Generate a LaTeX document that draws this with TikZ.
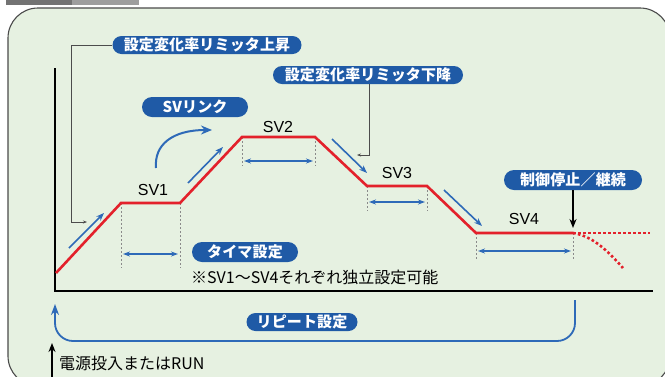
\documentclass[tikz,border=0pt]{standalone}
\usepackage{fontspec}
\setmainfont{Liberation Sans}
\newfontfamily\jp{Noto Sans CJK JP}
\newfontfamily\jpp[LetterSpace=1]{Noto Sans CJK JP}
\usetikzlibrary{arrows.meta,shapes.misc}
\definecolor{bg}{HTML}{E6F1E1}
\definecolor{pillc}{HTML}{1F5AA6}
\definecolor{barrow}{HTML}{2E6AB8}
\definecolor{rline}{HTML}{E3212B}
\definecolor{frame}{HTML}{4A4A4A}
\definecolor{guide}{HTML}{8A8A8A}
\tikzset{
  pill/.style={shape=rounded rectangle, fill=pillc, text=white, inner sep=0pt,
    font=\jpp\bfseries\fontsize{15}{15}\selectfont, minimum height=18pt},
  svlabel/.style={font=\fontsize{16}{16}\selectfont, inner sep=0pt},
  profile/.style={rline, line width=2.6pt, line join=miter},
  dotprof/.style={rline, line width=2.6pt, dash pattern=on 2.6pt off 2.4pt},
  guideline/.style={guide, line width=0.8pt, dash pattern=on 2pt off 2pt},
  span/.style={barrow, line width=1.3pt, {Stealth[length=7pt,width=5pt]}-{Stealth[length=7pt,width=5pt]}},
  slope/.style={barrow, line width=1.6pt, -{Stealth[length=8pt,width=6pt]}},
  conn/.style={black!70, line width=0.6pt, -{Stealth[length=4pt,width=3pt]}},
  plain/.style={inner sep=0pt, font=\jp\fontsize{16}{16}\selectfont},
}
\begin{document}
\begin{tikzpicture}[x=1pt,y=-1pt]
\useasboundingbox (0,0) rectangle (665,376);
% frame
\draw[fill=bg, draw=frame, line width=1.1pt, rounded corners=30pt] (8,8) rectangle (670,386);
\fill[black!55] (6,0) rectangle (72,5);
\fill[black!38] (72,0) rectangle (139,5);
% axes
\coordinate (ytop) at (55,68);
\coordinate (orig) at (55,291);
\coordinate (xend) at (653,291);
\draw[line width=2.2pt] (ytop) -- (orig) -- (xend);
% profile points
\coordinate (p0) at (56,273);
\coordinate (p1) at (121,203);
\coordinate (p2) at (180,203);
\coordinate (p3) at (242,137);
\coordinate (p4) at (315,137);
\coordinate (p5) at (367,186);
\coordinate (p6) at (427,186);
\coordinate (p7) at (476,233);
\coordinate (p8) at (573,233);
\coordinate (p9) at (650,233);
\coordinate (p10) at (623,268);
% guides
\coordinate (g1) at (121,268); \coordinate (g2) at (180,268);
\coordinate (g3) at (242,166); \coordinate (g4) at (315,166);
\coordinate (g5) at (367,211); \coordinate (g6) at (427,211);
\coordinate (g7) at (476,260); \coordinate (g8) at (573,260);
\draw[guideline] (p1) -- (g1);
\draw[guideline] (p2) -- (g2);
\draw[guideline] (p3) -- (g3);
\draw[guideline] (p4) -- (g4);
\draw[guideline] (p5) -- (g5);
\draw[guideline] (p6) -- (g6);
\draw[guideline] (p7) -- (g7);
\draw[guideline] (p8) -- (g8);
% spans
\coordinate (s1a) at (123,254); \coordinate (s1b) at (178,254);
\coordinate (s2a) at (244,161); \coordinate (s2b) at (313,161);
\coordinate (s3a) at (369,202); \coordinate (s3b) at (425,202);
\coordinate (s4a) at (478,251); \coordinate (s4b) at (571,251);
\draw[span] (s1a) -- (s1b);
\draw[span] (s2a) -- (s2b);
\draw[span] (s3a) -- (s3b);
\draw[span] (s4a) -- (s4b);
% profile
\draw[profile] (p0) -- (p1) -- (p2) -- (p3) -- (p4) -- (p5) -- (p6) -- (p7) -- (p8);
\draw[dotprof] (p8) -- (p9);
\draw[dotprof] (p8) .. controls (592,236) and (606,249) .. (p10);
% slope arrows
\coordinate (a1a) at (69,248); \coordinate (a1b) at (104,213);
\coordinate (a2a) at (188,183); \coordinate (a2b) at (223,147);
\coordinate (a3a) at (332,139); \coordinate (a3b) at (367,173);
\coordinate (a4a) at (444,190); \coordinate (a4b) at (482,226);
\draw[slope] (a1a) -- (a1b);
\draw[slope] (a2a) -- (a2b);
\draw[slope] (a3a) -- (a3b);
\draw[slope] (a4a) -- (a4b);
% SV labels
\node[svlabel] (sv1) at (153,190) {SV1};
\node[svlabel] (sv2) at (278,127) {SV2};
\node[svlabel] (sv3) at (397,173) {SV3};
\node[svlabel] (sv4) at (524,219) {SV4};
% pills
\node[pill, minimum width=189pt] (up) at (207,45) {設定変化率リミッタ上昇};
\node[pill, minimum width=190pt] (down) at (368,75) {設定変化率リミッタ下降};
\node[pill, minimum width=106pt, minimum height=20pt] (link) at (195,107) {SVリンク};
\node[pill, minimum width=106pt, minimum height=20pt] (timer) at (245,252) {タイマ設定};
\node[pill, minimum width=111pt, minimum height=18pt] (rep) at (302,322) {リピート設定};
\node[pill, minimum width=138pt, minimum height=20pt] (stop) at (573,180) {制御停止／継続};
% connectors
\coordinate (ua) at (71,222); \coordinate (ub) at (87,222);
\draw[conn] (up.west) -| (ua) -- (ub);
\coordinate (da) at (369,155); \coordinate (db) at (357,155);
\draw[conn] (down.south -| da) -- (da) -- (db);
% SV link curve
\coordinate (la) at (156,168); \coordinate (lb) at (212,130);
\draw[barrow, line width=2pt, -{Stealth[length=11pt,width=9pt]}] (la) .. controls (154,145) and (172,130) .. (lb);
% stop arrow
\coordinate (se) at (573,228);
\draw[black, line width=1.6pt, -{Stealth[length=9pt,width=7pt]}] (stop.south -| se) -- (se);
% note
\node[plain, anchor=west] (note) at (191,277) {※SV1～SV4それぞれ独立設定可能};
% repeat loop
\coordinate (r0) at (575,300); \coordinate (r1) at (575,341); \coordinate (r2) at (55,341); \coordinate (r3) at (55,304);
\draw[barrow, line width=1.8pt, rounded corners=18pt, -{Stealth[length=11pt,width=8pt]}] (r0) -- (r1) -- (r2) -- (r3);
% power arrow
\coordinate (pa) at (52,378); \coordinate (pb) at (52,343);
\draw[black, line width=2pt, -{Stealth[length=9pt,width=7pt]}] (pa) -- (pb);
\node[plain, anchor=west] (power) at (59,363) {電源投入またはRUN};
\end{tikzpicture}
\end{document}
